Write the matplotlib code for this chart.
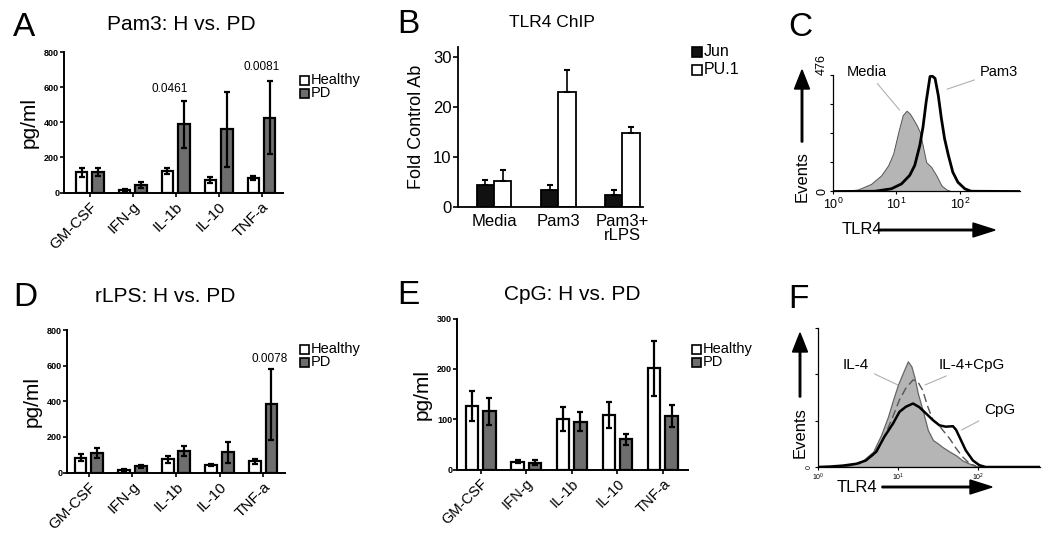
import numpy as np
import matplotlib.pyplot as plt
from matplotlib.patches import Rectangle, FancyArrow

plt.rcParams['font.family'] = ['Liberation Sans', 'DejaVu Sans']
plt.rcParams['mathtext.default'] = 'regular'

W, H = 1050, 539

# ---- cytokine bar data (pg/ml, mean and error) ----
cytokines = ['GM-CSF', 'IFN-g', 'IL-1b', 'IL-10', 'TNF-a']

pam3_healthy = [115, 13, 123, 72, 85]
pam3_healthy_err = [27, 5, 19, 17, 11]
pam3_pd = [119, 43, 388, 359, 427]
pam3_pd_err = [23, 19, 134, 214, 206]

rlps_healthy = [84, 15, 75, 43, 62]
rlps_healthy_err = [22, 4, 20, 6, 13]
rlps_pd = [112, 34, 118, 114, 383]
rlps_pd_err = [28, 6, 28, 60, 198]

cpg_healthy = [126, 15, 101, 109, 201]
cpg_healthy_err = [30, 3, 24, 26, 55]
cpg_pd = [116, 13, 95, 60, 106]
cpg_pd_err = [27, 5, 19, 11, 22]

# ---- ChIP data (fold over control Ab) ----
chip_groups = ['Media', 'Pam3', 'Pam3+\nrLPS']
chip_jun = [4.3, 3.3, 2.3]
chip_jun_err = [1.0, 1.0, 1.0]
chip_pu1 = [5.1, 22.9, 14.8]
chip_pu1_err = [2.2, 4.5, 1.1]

# ---- flow histograms: log10(TLR4) and events ----
c_media_log = [0.0, 0.18, 0.39, 0.6, 0.76, 0.87, 0.95, 1.03, 1.1, 1.16, 1.21, 1.26,
               1.32, 1.37, 1.42, 1.47, 1.55, 1.63, 1.71, 1.79, 1.87, 2.95]
c_media_events = [0, 3, 8, 31, 66, 107, 155, 243, 312, 330, 319, 298,
                  271, 243, 182, 120, 100, 66, 25, 8, 1, 0]
c_pam3_log = [0.0, 0.66, 0.92, 1.08, 1.21, 1.29, 1.37, 1.42, 1.47, 1.53, 1.56,
              1.61, 1.66, 1.71, 1.76, 1.82, 1.89, 1.97, 2.08, 2.18, 2.95]
c_pam3_events = [0, 1, 11, 31, 66, 107, 189, 264, 367, 469, 473,
                 462, 394, 298, 216, 148, 79, 38, 11, 1, 0]

f_il4_log = [0.0, 0.31, 0.44, 0.56, 0.69, 0.79, 0.875, 0.94, 1.0, 1.06, 1.125, 1.17,
             1.21, 1.25, 1.31, 1.375, 1.44, 1.5, 1.56, 1.65, 1.73, 1.81, 1.9, 1.98, 2.78]
f_il4_events = [0, 1, 5, 14, 33, 69, 108, 145, 177, 202, 228, 217,
                192, 159, 123, 80, 58, 51, 43, 33, 25, 14, 7, 2, 0]
f_il4cpg_log = [0.0, 0.31, 0.52, 0.69, 0.81, 0.92, 1.02, 1.1, 1.19, 1.25, 1.31,
                1.375, 1.44, 1.5, 1.56, 1.65, 1.73, 1.81, 1.9, 1.98]
f_il4cpg_events = [0, 1, 7, 25, 58, 101, 145, 170, 188, 184, 166,
                   130, 101, 94, 80, 61, 40, 22, 7, 2]
f_cpg_log = [0.0, 0.15, 0.31, 0.48, 0.6, 0.73, 0.83, 0.94, 1.02, 1.1, 1.19, 1.27,
             1.35, 1.44, 1.52, 1.6, 1.69, 1.73, 1.79, 1.85, 1.94, 2.02, 2.1, 2.78]
f_cpg_events = [0, 1, 3, 7, 14, 33, 65, 94, 119, 130, 137, 129,
                116, 101, 90, 87, 88, 80, 58, 36, 14, 4, 0, 0]

PD_GRAY = '#6e6e6e'
HIST_GRAY = '#b5b5b5'

fig = plt.figure(figsize=(W / 100, H / 100), dpi=100)


def px_axes(left, top, right, bottom):
    return fig.add_axes([left / W, 1 - bottom / H, (right - left) / W, (bottom - top) / H])


def cytokine_panel(ax, healthy, healthy_err, pd_vals, pd_err, ymax, step, xlim, xfs):
    x = np.arange(len(cytokines))
    ekw = dict(elinewidth=1.6, capthick=1.6, ecolor='black')
    ax.bar(x - 0.19, healthy, 0.27, color='white', edgecolor='black', linewidth=1.6,
           yerr=healthy_err, capsize=2.5, error_kw=ekw)
    ax.bar(x + 0.19, pd_vals, 0.27, color=PD_GRAY, edgecolor='black', linewidth=1.6,
           yerr=pd_err, capsize=2.5, error_kw=ekw)
    ax.set_xlim(*xlim)
    ax.set_ylim(0, ymax)
    ax.set_yticks(np.arange(0, ymax + 1, step))
    ax.set_xticks(x)
    ax.set_xticklabels(cytokines, rotation=45, ha='right', rotation_mode='anchor', fontsize=xfs)
    for lbl in ax.get_yticklabels():
        lbl.set_fontweight('bold')
    ax.tick_params(axis='y', labelsize=6.5, length=3, width=1.2, pad=0.5)
    ax.tick_params(axis='x', length=3, width=1.2, pad=2)
    for s in ['top', 'right']:
        ax.spines[s].set_visible(False)
    for s in ['left', 'bottom']:
        ax.spines[s].set_linewidth(1.4)
    ax.set_ylabel('pg/ml', fontsize=15, labelpad=4)


# ---- A ----
axA = px_axes(64, 52, 283, 192.5)
cytokine_panel(axA, pam3_healthy, pam3_healthy_err, pam3_pd, pam3_pd_err,
               800, 200, (-0.6, 4.5), 11)
axA.text(2 - 0.15, 592, '0.0461', ha='center', va='center', fontsize=8.5)
axA.text(4, 715, '0.0081', ha='center', va='center', fontsize=8.5, clip_on=False)

# ---- D ----
axD = px_axes(67, 330, 285, 472.5)
cytokine_panel(axD, rlps_healthy, rlps_healthy_err, rlps_pd, rlps_pd_err,
               800, 200, (-0.5, 4.5), 11)
axD.text(4 + 0.15, 635, '0.0078', ha='center', va='center', fontsize=8.5)

# ---- E ----
axE = px_axes(457, 318.5, 688, 469.5)
cytokine_panel(axE, cpg_healthy, cpg_healthy_err, cpg_pd, cpg_pd_err,
               300, 100, (-0.52, 4.55), 10.5)

# ---- B ----
axB = px_axes(458, 47, 643, 207)
xb = np.arange(len(chip_groups))
ekw = dict(elinewidth=1.2, capthick=1.5, ecolor='black')
axB.bar(xb - 0.135, chip_jun, 0.27, color='#111111', edgecolor='black', linewidth=1.3,
        yerr=[np.zeros(3), chip_jun_err], capsize=2.5, error_kw=ekw)
axB.bar(xb + 0.135, chip_pu1, 0.27, color='white', edgecolor='black', linewidth=1.3,
        yerr=[np.zeros(3), chip_pu1_err], capsize=2.5, error_kw=ekw)
axB.set_xlim(-0.56, 2.32)
axB.set_ylim(0, 31.9)
axB.set_yticks([0, 10, 20, 30])
axB.set_xticks(xb)
axB.set_xticklabels(chip_groups, fontsize=12, linespacing=0.95)
axB.tick_params(axis='y', labelsize=12, length=3.5, width=1.2, pad=1)
axB.tick_params(axis='x', length=0, pad=5)
for s in ['top', 'right']:
    axB.spines[s].set_visible(False)
for s in ['left', 'bottom']:
    axB.spines[s].set_linewidth(1.3)
axB.set_ylabel('Fold Control Ab', fontsize=13, labelpad=6)


def hist_axes(ax, xmax_log, ymax, yticks, ylabels, fs):
    ax.set_xscale('log')
    ax.set_xlim(1, 10 ** xmax_log)
    ax.set_ylim(0, ymax)
    ax.set_xticks([1, 10, 100])
    ax.set_xticklabels(['$10^{0}$', '$10^{1}$', '$10^{2}$'])
    ax.xaxis.set_minor_locator(plt.NullLocator())
    ax.set_yticks(yticks)
    ax.set_yticklabels(ylabels, rotation=90, va='center')
    ax.tick_params(labelsize=fs, length=2.5, width=0.8, pad=1)
    for s in ['top', 'right']:
        ax.spines[s].set_visible(False)
    for s in ['left', 'bottom']:
        ax.spines[s].set_linewidth(0.9)


def leader(ax, text, xy_log, xytext_log, fs):
    ax.annotate(text, xy=(10 ** xy_log[0], xy_log[1]),
                xytext=(10 ** xytext_log[0], xytext_log[1]),
                ha='center', va='center', fontsize=fs, annotation_clip=False,
                arrowprops=dict(arrowstyle='-', color='#b0b0b0', lw=0.8,
                                shrinkA=2, shrinkB=0))


# ---- C ----
axC = px_axes(833, 75, 1020, 191.5)
hist_axes(axC, 2.95, 476, [0, 119, 238, 357, 476], ['0', '', '', '', '476'], 9)
axC.get_yticklabels()[-1].set_va('bottom')
axC.fill_between(10 ** np.array(c_media_log), c_media_events, color=HIST_GRAY,
                 edgecolor='#555555', linewidth=0.7)
axC.plot(10 ** np.array(c_pam3_log), c_pam3_events, color='black', lw=2)
leader(axC, 'Media', (1.05, 333), (0.54, 490), 10.5)
leader(axC, 'Pam3', (1.80, 418), (2.62, 490), 10.5)

# ---- F ----
axF = px_axes(818, 328, 1040, 467)
hist_axes(axF, 2.78, 300, [0, 100, 200, 300], ['0', '', '', ''], 5)
axF.fill_between(10 ** np.array(f_il4_log), f_il4_events, color=HIST_GRAY,
                 edgecolor='#666666', linewidth=0.9)
axF.plot(10 ** np.array(f_il4cpg_log), f_il4cpg_events, color='#555555', lw=1,
         dashes=(6, 3))
axF.plot(10 ** np.array(f_cpg_log), f_cpg_events, color='black', lw=1.8)
leader(axF, 'IL-4', (1.0, 177), (0.475, 220), 11)
leader(axF, 'IL-4+CpG', (1.34, 177), (1.925, 220), 11)
leader(axF, 'CpG', (1.8, 80), (2.275, 123), 11)

# ---- overlay in pixel coordinates ----
ov = fig.add_axes([0, 0, 1, 1])
ov.set_xlim(0, W)
ov.set_ylim(H, 0)
ov.axis('off')

for letter, x, y in [('A', 13, 36), ('B', 397, 33), ('C', 788, 36),
                     ('D', 13, 306), ('E', 397, 304), ('F', 788, 308)]:
    ov.text(x, y, letter, fontsize=24, va='baseline', ha='left')

ov.text(181, 30, 'Pam3: H vs. PD', fontsize=15, ha='center', va='baseline')
ov.text(552, 27, 'TLR4 ChIP', fontsize=12.5, ha='center', va='baseline')
ov.text(165, 302, 'rLPS: H vs. PD', fontsize=15, ha='center', va='baseline')
ov.text(572, 300, 'CpG: H vs. PD', fontsize=15, ha='center', va='baseline')


def legend(x, y, pitch, items, fs, box=10):
    for i, (label, fc) in enumerate(items):
        cy = y + i * pitch
        ov.add_patch(Rectangle((x, cy - box / 2), box, box, facecolor=fc,
                               edgecolor='black', linewidth=1.2))
        ov.text(x + box + 1.5, cy, label, fontsize=fs, va='center', ha='left')


legend(300, 80, 13, [('Healthy', 'white'), ('PD', PD_GRAY)], 10.5, 9)
legend(300, 349, 13, [('Healthy', 'white'), ('PD', PD_GRAY)], 10.5, 9)
legend(692, 349, 13, [('Healthy', 'white'), ('PD', PD_GRAY)], 10.5, 9)
legend(692, 52, 18, [('Jun', '#111111'), ('PU.1', 'white')], 11.5, 10)

# Events / TLR4 arrows
for ex, ey0, ey1, ty in [(802, 142, 70, 177), (800, 397, 333, 433)]:
    ov.add_patch(FancyArrow(ex, ey0, 0, ey1 - ey0, width=1.5, head_width=15,
                            head_length=19, length_includes_head=True, color='black'))
    ov.text(ex, ty, 'Events', rotation=90, fontsize=12, ha='center', va='center')
for tx, ax0, ax1, ay in [(842, 878, 995, 230), (837, 882, 992, 487)]:
    ov.add_patch(FancyArrow(ax0, ay, ax1 - ax0, 0, width=1.5, head_width=14,
                            head_length=22, length_includes_head=True, color='black'))
    ov.text(tx, ay, 'TLR4', fontsize=12, ha='left', va='center')

fig.savefig('out.png', dpi=100)
